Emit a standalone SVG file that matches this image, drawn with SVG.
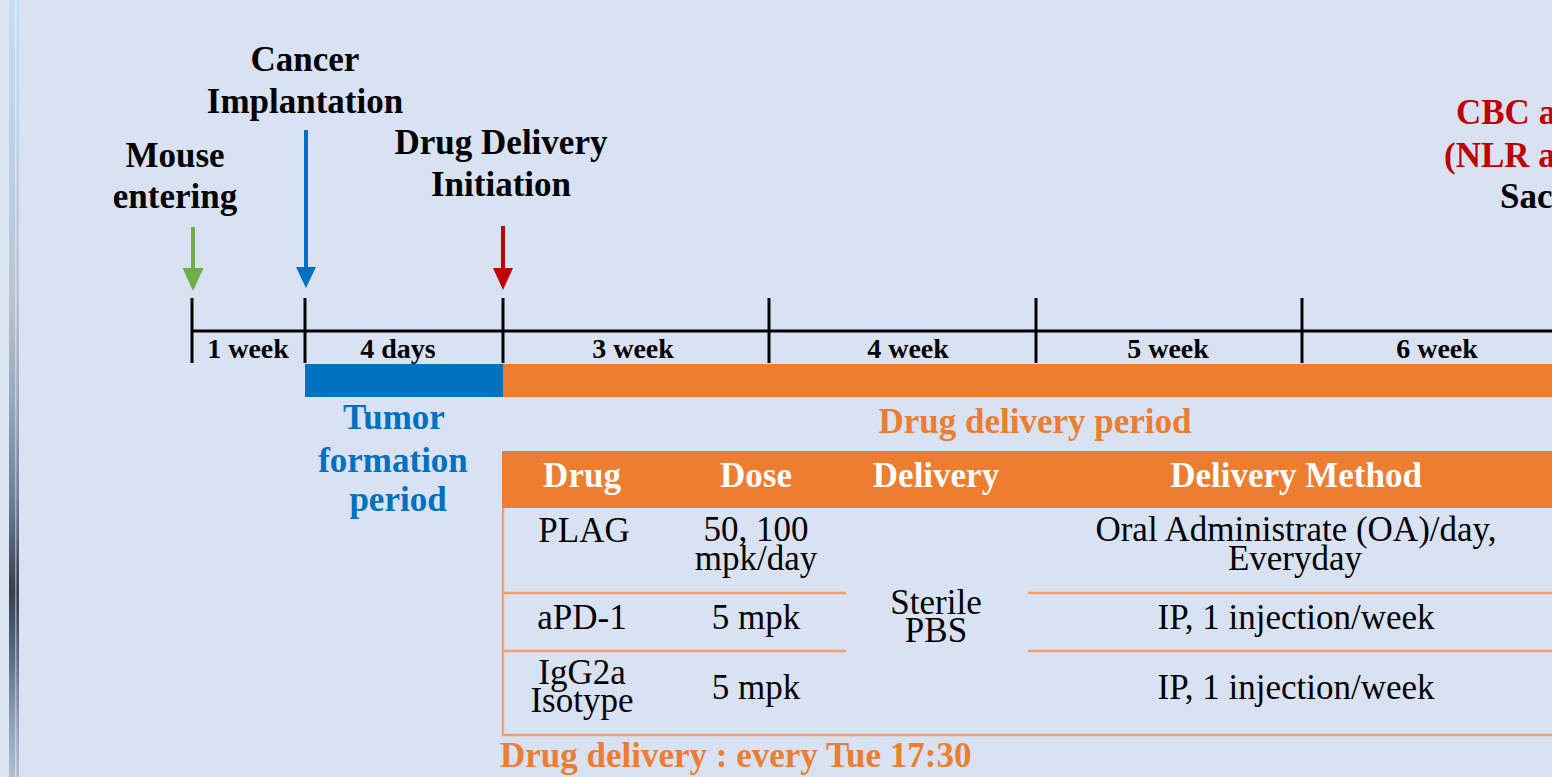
<svg xmlns="http://www.w3.org/2000/svg" width="1552" height="777" viewBox="0 0 1552 777">
<style>
.t{font-family:"Liberation Serif","Times New Roman",serif;}
.lbl{font-size:35px;font-weight:bold;fill:#000;text-anchor:middle;}
.wk{font-size:28px;font-weight:bold;fill:#000;text-anchor:middle;}
.hd{font-size:35px;font-weight:bold;fill:#fff;text-anchor:middle;}
.cell{font-size:35px;fill:#000;text-anchor:middle;}
.tick{stroke:#000;stroke-width:3;fill:none;}
.grid{stroke:#F0A070;stroke-width:2.5;fill:none;}
</style>
<defs>
<linearGradient id="strip" x1="0" y1="0" x2="0" y2="1">
<stop offset="0" stop-color="#C6DDF6"/>
<stop offset="0.39" stop-color="#B7C3D3"/>
<stop offset="0.52" stop-color="#98A6BA"/>
<stop offset="0.64" stop-color="#6F7F97"/>
<stop offset="0.76" stop-color="#333F4E"/>
<stop offset="0.85" stop-color="#5E6E88"/>
<stop offset="0.92" stop-color="#8A9AB2"/>
<stop offset="1" stop-color="#AFBED2"/>
</linearGradient>
</defs>
<rect x="0" y="0" width="1552" height="777" fill="#D9E2F3"/>
<rect x="0" y="0" width="9" height="777" fill="#DDE6F3"/>
<rect x="9" y="0" width="10" height="777" fill="url(#strip)"/>
<rect x="15" y="0" width="1.5" height="777" fill="#FFFFFF" opacity="0.45"/>

<g id="connectors">
<line x1="193" y1="227" x2="193" y2="270" stroke="#70AD47" stroke-width="4"/>
<polygon points="182.5,268 203.5,268 193,291" fill="#70AD47"/>
<line x1="306" y1="130" x2="306" y2="269" stroke="#0070C0" stroke-width="4"/>
<polygon points="296,267 316,267 306,288" fill="#0070C0"/>
<line x1="503" y1="226" x2="503" y2="270" stroke="#C00000" stroke-width="4"/>
<polygon points="493,268 513,268 503,290" fill="#C00000"/>
</g>

<g id="labels-top" class="t">
<text class="lbl" x="175" y="167">Mouse</text>
<text class="lbl" x="175" y="208">entering</text>
<text class="lbl" x="305" y="71">Cancer</text>
<text class="lbl" x="305" y="113">Implantation</text>
<text class="lbl" x="501" y="154">Drug Delivery</text>
<text class="lbl" x="501" y="196">Initiation</text>
<text x="1456" y="124" font-size="35" font-weight="bold" fill="#C00000">CBC a</text>
<text x="1444" y="167" font-size="35" font-weight="bold" fill="#C00000">(NLR a</text>
<text x="1500" y="208" font-size="35" font-weight="bold" fill="#000">Sac</text>
</g>

<g id="timeline">
<line class="tick" x1="192" y1="331" x2="1552" y2="331"/>
<line class="tick" x1="192" y1="298" x2="192" y2="363"/>
<line class="tick" x1="305" y1="298" x2="305" y2="363"/>
<line class="tick" x1="503" y1="298" x2="503" y2="363"/>
<line class="tick" x1="769" y1="298" x2="769" y2="363"/>
<line class="tick" x1="1036" y1="298" x2="1036" y2="363"/>
<line class="tick" x1="1302" y1="298" x2="1302" y2="363"/>
<g class="t">
<text class="wk" x="248" y="358">1 week</text>
<text class="wk" x="398" y="358">4 days</text>
<text class="wk" x="633" y="358">3 week</text>
<text class="wk" x="908" y="358">4 week</text>
<text class="wk" x="1168" y="358">5 week</text>
<text class="wk" x="1437" y="358">6 week</text>
</g>
</g>

<g id="tumor-period">
<rect x="305" y="364" width="198" height="33" fill="#0070C0"/>
<g class="t" font-size="35" font-weight="bold" fill="#0070C0" text-anchor="middle">
<text x="394" y="429">Tumor</text>
<text x="393" y="472">formation</text>
<text x="398" y="511">period</text>
</g>
</g>

<g id="drug-period">
<rect x="503" y="364" width="1049" height="33" fill="#ED7D31"/>
<text class="t" x="1035" y="433" font-size="35" font-weight="bold" fill="#ED7D31" text-anchor="middle">Drug delivery period</text>
</g>

<g id="table">
<rect x="502" y="451" width="1050" height="57" fill="#ED7D31"/>
<line class="grid" x1="503" y1="508" x2="503" y2="735"/>
<line class="grid" x1="502" y1="593" x2="846" y2="593"/>
<line class="grid" x1="1028" y1="593" x2="1552" y2="593"/>
<line class="grid" x1="502" y1="651" x2="846" y2="651"/>
<line class="grid" x1="1028" y1="651" x2="1552" y2="651"/>
<line class="grid" x1="502" y1="735" x2="1552" y2="735"/>
<g class="t">
<text class="hd" x="582" y="487">Drug</text>
<text class="hd" x="756" y="487">Dose</text>
<text class="hd" x="936" y="487">Delivery</text>
<text class="hd" x="1296" y="487">Delivery Method</text>
<text class="cell" x="584" y="542">PLAG</text>
<text class="cell" x="756" y="541">50, 100</text>
<text class="cell" x="756" y="570">mpk/day</text>
<text class="cell" x="1296" y="541">Oral Administrate (OA)/day,</text>
<text class="cell" x="1295" y="570">Everyday</text>
<text class="cell" x="582" y="629">aPD-1</text>
<text class="cell" x="756" y="629">5 mpk</text>
<text class="cell" x="936" y="614">Sterile</text>
<text class="cell" x="936" y="642">PBS</text>
<text class="cell" x="1296" y="629">IP, 1 injection/week</text>
<text class="cell" x="582" y="684">IgG2a</text>
<text class="cell" x="582" y="712">Isotype</text>
<text class="cell" x="756" y="699">5 mpk</text>
<text class="cell" x="1296" y="699">IP, 1 injection/week</text>
</g>
</g>

<g id="footer">
<text class="t" x="500" y="767" font-size="35" font-weight="bold" fill="#ED7D31">Drug delivery : every Tue 17:30</text>
</g>
</svg>
